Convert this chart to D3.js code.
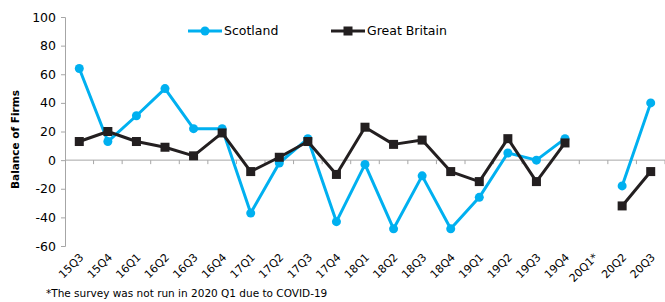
<!DOCTYPE html>
<html>
<head>
<meta charset="utf-8">
<script src="https://d3js.org/d3.v7.min.js"></script>
<style>
  body { margin: 0; background: #fff; }
  text { font-family: "DejaVu Sans", Verdana, sans-serif; }
</style>
</head>
<body>
<div id="chart"></div>
<script>
var quarters = ['15Q3', '15Q4', '16Q1', '16Q2', '16Q3', '16Q4', '17Q1', '17Q2', '17Q3', '17Q4',
  '18Q1', '18Q2', '18Q3', '18Q4', '19Q1', '19Q2', '19Q3', '19Q4', '20Q1*', '20Q2', '20Q3'];
var scotland = [64, 13, 31, 50, 22, 22, -37, -2, 15, -43, -3, -48, -11, -48, -26, 5, 0, 15, null, -18, 40];
var greatBritain = [13, 20, 13, 9, 3, 19, -8, 2, 13, -10, 23, 11, 14, -8, -15, 15, -15, 12, null, -32, -8];
var yTicks = [-60, -40, -20, 0, 20, 40, 60, 80, 100];

var width = 665, height = 302;
var margin = {left: 65, right: 0, top: 17, bottom: 56};

var svg = d3.select('#chart').append('svg')
  .attr('width', width).attr('height', height);

var x = d3.scaleBand().domain(quarters).range([margin.left, width - margin.right]);
var y = d3.scaleLinear().domain([-60, 100]).range([height - margin.bottom, margin.top]);

// y axis
var yAxis = svg.append('g')
  .attr('transform', 'translate(' + margin.left + ',0)')
  .call(d3.axisLeft(y).tickValues(yTicks).tickSize(4).tickPadding(5)
    .tickFormat(function (d) { return String(d); }));
yAxis.select('.domain').attr('stroke', '#a6a6a6');
yAxis.selectAll('.tick line').attr('stroke', '#a6a6a6');
yAxis.selectAll('.tick text').attr('font-size', 12.5).attr('fill', '#000');

// x axis on zero line, ticks at band boundaries
svg.append('line')
  .attr('x1', margin.left).attr('x2', width - margin.right)
  .attr('y1', y(0)).attr('y2', y(0))
  .attr('stroke', '#a6a6a6');
quarters.forEach(function (q) {
  var xb = x(q) + x.bandwidth();
  svg.append('line')
    .attr('x1', xb).attr('x2', xb)
    .attr('y1', y(0)).attr('y2', y(0) + 4)
    .attr('stroke', '#a6a6a6');
});

// x labels, rotated
svg.selectAll('.xlab').data(quarters).enter().append('text')
  .attr('class', 'xlab')
  .attr('transform', function (d) {
    return 'translate(' + (x(d) + x.bandwidth() / 2 + 5) + ',' + (y(-60) + 12) + ') rotate(-45)';
  })
  .attr('text-anchor', 'end')
  .attr('font-size', 11)
  .text(function (d) { return d; });

// y label
svg.append('text')
  .attr('transform', 'translate(19,' + ((y(100) + y(-60)) / 2 + 8) + ') rotate(-90)')
  .attr('text-anchor', 'middle')
  .attr('font-size', 10.5)
  .attr('font-weight', 'bold')
  .text('Balance of Firms');

// footnote
svg.append('text')
  .attr('x', 46).attr('y', 297)
  .attr('font-size', 10.5)
  .text('*The survey was not run in 2020 Q1 due to COVID-19');

var line = d3.line()
  .defined(function (d) { return d != null; })
  .x(function (d, i) { return x(quarters[i]) + x.bandwidth() / 2; })
  .y(function (d) { return y(d); });

var blue = '#00b0f0', dark = '#231f20';

function drawSeries(values, color, marker) {
  svg.append('path')
    .datum(values)
    .attr('fill', 'none')
    .attr('stroke', color)
    .attr('stroke-width', 3)
    .attr('stroke-linejoin', 'round')
    .attr('d', line);
  var pts = values.map(function (v, i) { return {v: v, q: quarters[i]}; })
    .filter(function (d) { return d.v != null; });
  if (marker === 'circle') {
    svg.selectAll(null).data(pts).enter().append('circle')
      .attr('cx', function (d) { return x(d.q) + x.bandwidth() / 2; })
      .attr('cy', function (d) { return y(d.v); })
      .attr('r', 4.5)
      .attr('fill', color);
  } else {
    svg.selectAll(null).data(pts).enter().append('rect')
      .attr('x', function (d) { return x(d.q) + x.bandwidth() / 2 - 4.5; })
      .attr('y', function (d) { return y(d.v) - 4.5; })
      .attr('width', 9).attr('height', 9)
      .attr('fill', color);
  }
}

drawSeries(scotland, blue, 'circle');
drawSeries(greatBritain, dark, 'square');

// legend
var legend = [
  {name: 'Scotland', color: blue, marker: 'circle', x: 188},
  {name: 'Great Britain', color: dark, marker: 'square', x: 331}
];
legend.forEach(function (l) {
  var ly = 31;
  svg.append('line')
    .attr('x1', l.x).attr('x2', l.x + 34)
    .attr('y1', ly).attr('y2', ly)
    .attr('stroke', l.color).attr('stroke-width', 3);
  if (l.marker === 'circle') {
    svg.append('circle').attr('cx', l.x + 17).attr('cy', ly).attr('r', 4.5).attr('fill', l.color);
  } else {
    svg.append('rect').attr('x', l.x + 12.5).attr('y', ly - 4.5)
      .attr('width', 9).attr('height', 9).attr('fill', l.color);
  }
  svg.append('text')
    .attr('x', l.x + 36).attr('y', ly + 4)
    .attr('font-size', 12.5)
    .text(l.name);
});
</script>
</body>
</html>
